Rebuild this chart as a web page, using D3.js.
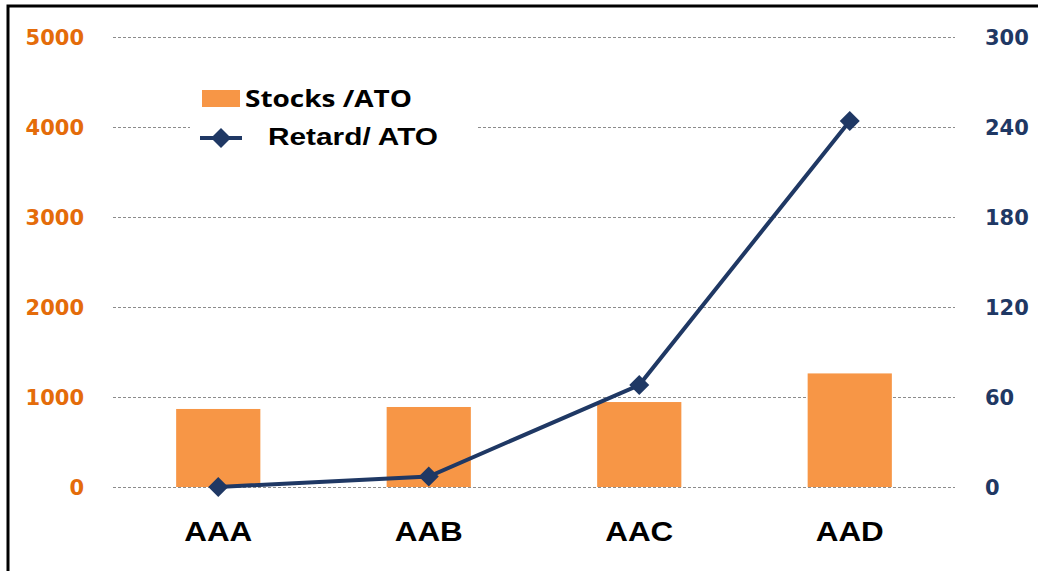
<!DOCTYPE html>
<html><head><meta charset="utf-8">
<script src="https://cdn.jsdelivr.net/npm/d3@7"></script>
<style>body{margin:0;background:#fff}svg{display:block}</style>
</head><body>
<script>
const categories = ["AAA","AAB","AAC","AAD"];
const stocks = [867, 889, 944, 1262];
const retard = [0, 7, 68, 244];
const leftTicks = [0,1000,2000,3000,4000,5000];
const rightTicks = [0,60,120,180,240,300];
const seriesNames = ["Stocks /ATO","Retard/ ATO"];

const W=1038,H=571;
const svg=d3.select("body").append("svg").attr("width",W).attr("height",H);
const x0=113,x1=955,yTop=37,yBot=487;
const x=d3.scaleBand().domain(categories).range([x0,x1]).paddingInner(0.6).paddingOuter(0.3);
const yL=d3.scaleLinear().domain([0,5000]).range([yBot,yTop]);
const yR=d3.scaleLinear().domain([0,300]).range([yBot,yTop]);

// border
svg.append("path").attr("d",`M8,${H} V6 H${W}`).attr("fill","none").attr("stroke","#000").attr("stroke-width",3);

// gridlines
svg.append("g").selectAll("line").data(leftTicks).join("line")
 .attr("x1",x0).attr("x2",x1).attr("y1",d=>yL(d)+0.5).attr("y2",d=>yL(d)+0.5)
 .attr("stroke","#8c8c8c").attr("stroke-width",1).attr("stroke-dasharray","3,2");

// left axis
const la=svg.append("g").attr("transform",`translate(84,0)`)
 .call(d3.axisLeft(yL).tickValues(leftTicks).tickFormat(d3.format("d")).tickSize(0).tickPadding(0));
la.select(".domain").remove();
la.selectAll("text").attr("fill","#e46c0a").attr("font-family","DejaVu Sans").attr("font-weight","bold").attr("font-size",21).attr("dy","0.35em");

const ra=svg.append("g").attr("transform",`translate(985,0)`)
 .call(d3.axisRight(yR).tickValues(rightTicks).tickFormat(d3.format("d")).tickSize(0).tickPadding(0));
ra.select(".domain").remove();
ra.selectAll("text").attr("fill","#1f3864").attr("font-family","DejaVu Sans").attr("font-weight","bold").attr("font-size",21).attr("dy","0.35em");

// bars
svg.append("g").selectAll("rect").data(categories).join("rect")
 .attr("x",d=>x(d)).attr("width",x.bandwidth())
 .attr("y",(d,i)=>yL(stocks[i])).attr("height",(d,i)=>yBot-yL(stocks[i]))
 .attr("fill","#f79646");

// line
const cx=d=>x(d)+x.bandwidth()/2;
svg.append("path").datum(categories).attr("fill","none").attr("stroke","#1f3864").attr("stroke-width",4)
 .attr("d",d3.line().x(d=>cx(d)).y((d,i)=>yR(retard[i])));
const diamond=d3.symbol(d3.symbolSquare,200)();
svg.append("g").selectAll("path").data(categories).join("path")
 .attr("transform",(d,i)=>`translate(${cx(d)},${yR(retard[i])}) rotate(45)`)
 .attr("d",diamond).attr("fill","#1f3864");

// category labels
svg.append("g").selectAll("text").data(categories).join("text")
 .attr("x",d=>cx(d)-34).attr("y",541).attr("textLength",68).attr("lengthAdjust","spacingAndGlyphs")
 .attr("font-family","Liberation Sans").attr("font-weight","bold").attr("font-size",28).attr("fill","#000").text(d=>d);

// legend
const lg=svg.append("g");
lg.append("rect").attr("x",190).attr("y",80).attr("width",288).attr("height",70).attr("fill","#fff");
lg.append("rect").attr("x",202).attr("y",90).attr("width",38).attr("height",17).attr("fill","#f79646");
lg.append("text").attr("x",245).attr("y",107).text(seriesNames[0]).attr("textLength",167).attr("lengthAdjust","spacingAndGlyphs")
 .attr("font-family","Open Sans").attr("font-weight","bold").attr("font-size",24).attr("fill","#000");
lg.append("line").attr("x1",200).attr("x2",242).attr("y1",138).attr("y2",138).attr("stroke","#1f3864").attr("stroke-width",4);
lg.append("path").attr("transform","translate(221,138) rotate(45)").attr("d",diamond).attr("fill","#1f3864");
lg.append("text").attr("x",268).attr("y",145).text(seriesNames[1]).attr("textLength",170).attr("lengthAdjust","spacingAndGlyphs")
 .attr("font-family","Liberation Sans").attr("font-weight","bold").attr("font-size",24).attr("fill","#000");
</script>
</body></html>
